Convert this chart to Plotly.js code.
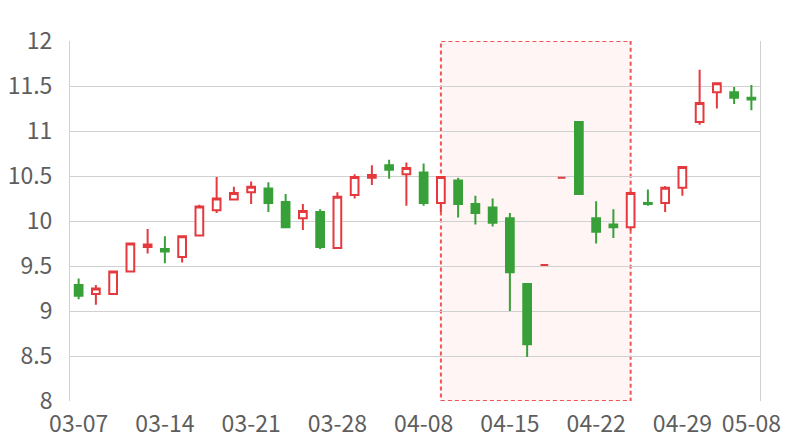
<!DOCTYPE html>
<html>
<head>
<meta charset="utf-8">
<script src="https://cdn.plot.ly/plotly-3.0.1.min.js"></script>
<style>html,body{margin:0;padding:0;background:#fff;}#chart{width:800px;height:440px;}</style>
</head>
<body>
<div id="chart"></div>
<script>
// Trading days (category axis)
const dates = [
  "03-07","03-08","03-09","03-10","03-11",
  "03-14","03-15","03-16","03-17","03-18",
  "03-21","03-22","03-23","03-24","03-25",
  "03-28","03-29","03-30","03-31","04-01",
  "04-08","04-11","04-12","04-13","04-14",
  "04-15","04-18","04-19","04-20","04-21",
  "04-22","04-25","04-26","04-27","04-28",
  "04-29","05-05","05-06","05-07","05-08"
];
const openVals = [
  9.29, 9.19, 9.19, 9.44, 9.71, 9.69, 9.60, 9.84, 10.12, 10.24,
  10.32, 10.36, 10.21, 10.03, 10.10, 9.70, 10.29, 10.48, 10.62, 10.52,
  10.54, 10.20, 10.45, 10.19, 10.15, 10.03, 9.30, 9.51, 10.48, 11.10,
  10.03, 9.96, 9.93, 10.20, 10.20, 10.37, 11.10, 11.43, 11.43, 11.37
];
const highVals = [
  9.36, 9.29, 9.44, 9.75, 9.91, 9.83, 9.83, 10.18, 10.49, 10.38,
  10.44, 10.43, 10.30, 10.19, 10.13, 10.32, 10.52, 10.62, 10.68, 10.65,
  10.64, 10.49, 10.48, 10.28, 10.25, 10.09, 9.30, 9.51, 10.48, 11.10,
  10.22, 10.13, 10.33, 10.35, 10.39, 10.60, 11.68, 11.54, 11.49, 11.51
];
const lowVals = [
  9.13, 9.07, 9.19, 9.44, 9.64, 9.53, 9.54, 9.83, 10.09, 10.24,
  10.19, 10.10, 9.92, 9.90, 9.69, 9.70, 10.25, 10.40, 10.47, 10.17,
  10.17, 10.10, 10.04, 9.96, 9.94, 9.00, 8.49, 9.51, 10.48, 10.30,
  9.75, 9.81, 9.90, 10.17, 10.10, 10.28, 11.07, 11.25, 11.30, 11.23
];
const closeVals = [
  9.17, 9.25, 9.44, 9.75, 9.74, 9.66, 9.83, 10.16, 10.25, 10.31,
  10.38, 10.20, 9.93, 10.11, 9.71, 10.27, 10.49, 10.51, 10.57, 10.59,
  10.20, 10.49, 10.19, 10.09, 9.98, 9.43, 8.63, 9.51, 10.48, 10.30,
  9.88, 9.93, 10.31, 10.19, 10.37, 10.60, 11.31, 11.53, 11.37, 11.35
];
const tickLabels = ["03-07","03-14","03-21","03-28","04-08","04-15","04-22","04-29","05-08"];
const yTicks = [8, 8.5, 9, 9.5, 10, 10.5, 11, 11.5, 12];
const highlightStart = "04-11";
const highlightEnd = "04-26";

const RED = "#e53a3d";
const GREEN = "#38a038";
const FONT = "Noto Sans CJK SC";
const TICK_COLOR = "#5e5e5e";

const trace = {
  type: "candlestick",
  x: dates,
  open: openVals,
  high: highVals,
  low: lowVals,
  close: closeVals,
  increasing: {line: {color: RED, width: 2}, fillcolor: "#ffffff"},
  decreasing: {line: {color: GREEN, width: 2}, fillcolor: GREEN},
  whiskerwidth: 0,
  hoverinfo: "none",
  showlegend: false
};

const layout = {
  width: 800,
  height: 440,
  margin: {l: 70, r: 40, t: 41, b: 39},
  paper_bgcolor: "#ffffff",
  plot_bgcolor: "#ffffff",
  showlegend: false,
  boxgap: 0.36,
  font: {family: FONT, size: 23, color: TICK_COLOR},
  xaxis: {
    type: "category",
    categoryorder: "array",
    categoryarray: dates,
    range: [-0.5, dates.length - 0.5],
    rangeslider: {visible: false},
    tickmode: "array",
    tickvals: tickLabels,
    ticktext: tickLabels,
    showgrid: false,
    showline: false,
    ticks: "",
    ticklabelstandoff: 7,
    tickfont: {family: FONT, size: 23, color: TICK_COLOR},
    fixedrange: true
  },
  yaxis: {
    range: [8, 12],
    tickmode: "array",
    tickvals: yTicks,
    ticktext: yTicks.map(String),
    showgrid: true,
    gridcolor: "#d0d0d0",
    gridwidth: 1,
    showline: true,
    linecolor: "#d0d0d0",
    linewidth: 1,
    mirror: true,
    zeroline: false,
    ticks: "",
    ticklabelstandoff: 12,
    tickfont: {family: FONT, size: 23, color: TICK_COLOR},
    fixedrange: true
  },
  shapes: [{
    type: "rect",
    xref: "x",
    yref: "y",
    x0: dates.indexOf(highlightStart),
    x1: dates.indexOf(highlightEnd),
    y0: 8,
    y1: 12,
    fillcolor: "#fff5f5",
    line: {color: "#ef5555", width: 2, dash: "4px,3px"},
    layer: "below"
  }]
};

Plotly.newPlot("chart", [trace], layout, {displayModeBar: false, staticPlot: true});
</script>
</body>
</html>
